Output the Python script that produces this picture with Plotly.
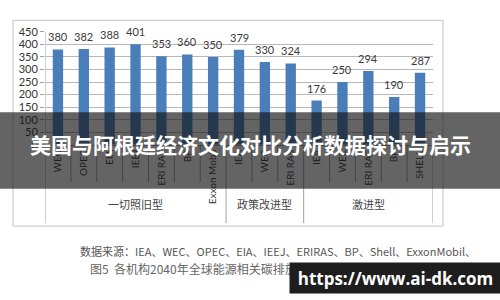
import plotly.graph_objects as go

categories = ["WEC", "OPEC", "EIA", "IEEJ", "ERI RAS", "BP", "Exxon Mobil",
              "IEA", "WEC", "ERI RAS",
              "IEA", "WEC", "ERI RAS", "BP", "SHELL"]
values = [380, 382, 388, 401, 353, 360, 350, 379, 330, 324, 176, 250, 294, 190, 287]
groups = ["一切照旧型", "政策改进型", "激进型"]
group_sizes = [7, 3, 5]
y_ticks = [0, 50, 100, 150, 200, 250, 300, 350, 400, 450]
title_text = "美国与阿根廷经济文化对比分析数据探讨与启示"
source_text = "数据来源：IEA、WEC、OPEC、EIA、IEEJ、ERIRAS、BP、Shell、ExxonMobil、"
caption_text = "图5  各机构2040年全球能源相关碳排放预测对比"
watermark = "https://www.ai-dk.com"

W, H = 500, 300
def px(x):
    return x / W
def py(y):
    return 1 - y / H

xs = list(range(len(categories)))
font_main = "Lato, Open Sans, sans-serif"
cjk = "Noto Sans CJK SC"

fig = go.Figure()
fig.add_trace(go.Bar(
    x=xs, y=values, width=0.4,
    marker=dict(color="#4a7ebb", line=dict(width=0)),
    showlegend=False, hoverinfo="x+y",
))

shapes = []
shapes.append(dict(type="rect", xref="paper", yref="paper",
                   x0=px(13), x1=px(443), y0=py(229), y1=py(14),
                   line=dict(color="#cfcfcf", width=1.2), layer="below"))
n = len(categories)
bounds = []
acc = 0
for s in group_sizes:
    acc += s
    bounds.append(acc)
for i in range(n + 1):
    xpos = i - 0.5
    y_end = 226 if (i == 0 or i in bounds) else 183
    shapes.append(dict(type="line", xref="x", yref="paper",
                       x0=xpos, x1=xpos, y0=py(144), y1=py(y_end),
                       line=dict(color="#a0a0a0", width=1)))
shapes.append(dict(type="line", xref="x", yref="paper",
                   x0=-0.5, x1=-0.5, y0=py(144), y1=py(26),
                   line=dict(color="#a0a0a0", width=1)))
shapes.append(dict(type="rect", xref="paper", yref="paper",
                   x0=0, x1=1, y0=py(190), y1=py(110),
                   fillcolor="rgba(20,20,20,0.66)", line=dict(width=0), layer="above"))

annotations = []
# value labels drawn from the data
for xv, v in zip(xs, values):
    annotations.append(dict(x=xv, y=v, xref="x", yref="y",
                            yanchor="bottom", yshift=4,
                            text=str(v), showarrow=False,
                            font=dict(size=11, color="#3a3a3a", family=font_main)))
start = 0
for g, s in zip(groups, group_sizes):
    center = start + (s - 1) / 2
    annotations.append(dict(x=center, y=py(216), xref="x", yref="paper",
                            text=g, showarrow=False,
                            font=dict(size=11, color="#444444", family=cjk)))
    start += s
annotations.append(dict(x=0.5, y=py(143), xref="paper", yref="paper",
                        text="<b>" + title_text + "</b>", showarrow=False,
                        font=dict(size=21, color="white", family=cjk)))
annotations.append(dict(x=px(278), y=py(266), xref="paper", yref="paper",
                        text=source_text, showarrow=False,
                        font=dict(size=11, color="#555555", family=cjk)))
annotations.append(dict(x=px(88), y=py(284), xref="paper", yref="paper",
                        xanchor="left", text=caption_text, showarrow=False,
                        font=dict(size=12, color="#666666", family=cjk)))
annotations.append(dict(x=px(289), y=0, xref="paper", yref="paper",
                        xanchor="left", yanchor="bottom",
                        width=207, height=26, borderpad=2,
                        bgcolor="#1e1e1e", align="center", valign="middle",
                        text="<b>" + watermark + "</b>", showarrow=False,
                        font=dict(size=17, color="white", family="Open Sans, sans-serif")))

fig.update_layout(
    width=W, height=H,
    margin=dict(l=0, r=0, t=0, b=0),
    paper_bgcolor="white", plot_bgcolor="white",
    font=dict(family=font_main),
    xaxis=dict(domain=[px(45), px(433)], range=[-0.5, n - 0.5],
               tickmode="array", tickvals=xs, ticktext=categories,
               tickangle=-90, tickfont=dict(size=10, color="#333333"),
               showgrid=False, showline=True, linecolor="#a0a0a0",
               ticks="", zeroline=False, fixedrange=True),
    yaxis=dict(domain=[py(144), py(26)], range=[0, 450],
               tickmode="array", tickvals=y_ticks,
               tickfont=dict(size=11, color="#333333"),
               showgrid=True, gridcolor="#b8b8b8", gridwidth=1,
               ticks="outside", ticklen=4, tickcolor="#a0a0a0",
               showline=False, zeroline=False, fixedrange=True),
    shapes=shapes, annotations=annotations,
)

fig.write_html("out.html")
